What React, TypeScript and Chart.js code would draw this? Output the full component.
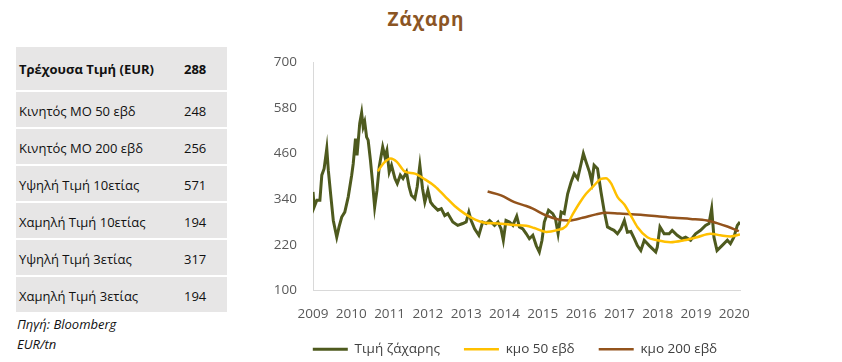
import React, { useEffect, useRef } from "react";
import { Chart, registerables } from "chart.js";

Chart.register(...registerables);

const TITLE = "Ζάχαρη";
const tableLabels = [
  "Τρέχουσα Τιμή (EUR)",
  "Κινητός ΜΟ 50 εβδ",
  "Κινητός ΜΟ 200 εβδ",
  "Υψηλή Τιμή 10ετίας",
  "Χαμηλή Τιμή 10ετίας",
  "Υψηλή Τιμή 3ετίας",
  "Χαμηλή Τιμή 3ετίας",
];
const tableValues = [288, 248, 256, 571, 194, 317, 194];
const sourceLines = ["Πηγή: Bloomberg", "EUR/tn"];
const seriesNames = ["Τιμή ζάχαρης", "κμο 50 εβδ", "κμο 200 εβδ"];

const yMin = 100;
const yMax = 700;
const yStep = 120;
const xStartYear = 2009;
const xEndYear = 2020.15;

const priceYears = [
  2009.0, 2009.03, 2009.1, 2009.18, 2009.23, 2009.29, 2009.36, 2009.4, 2009.46, 2009.53,
  2009.62, 2009.68, 2009.75, 2009.83, 2009.92, 2010.01, 2010.05, 2010.11, 2010.15, 2010.22,
  2010.27, 2010.31, 2010.35, 2010.4, 2010.44, 2010.5, 2010.55, 2010.61, 2010.67, 2010.73,
  2010.82, 2010.88, 2010.93, 2010.99, 2011.05, 2011.14, 2011.2, 2011.28, 2011.35, 2011.44,
  2011.51, 2011.57, 2011.66, 2011.72, 2011.79, 2011.86, 2011.92, 2012.0, 2012.07, 2012.13,
  2012.26, 2012.35, 2012.44, 2012.52, 2012.65, 2012.78, 2012.91, 2013.0, 2013.07, 2013.13,
  2013.22, 2013.33, 2013.43, 2013.52, 2013.61, 2013.74, 2013.83, 2013.91, 2013.97, 2014.04,
  2014.13, 2014.22, 2014.32, 2014.39, 2014.48, 2014.57, 2014.65, 2014.74, 2014.83, 2014.91,
  2014.98, 2015.04, 2015.15, 2015.26, 2015.33, 2015.4, 2015.48, 2015.56, 2015.65, 2015.74,
  2015.82, 2015.91, 2016.0, 2016.06, 2016.13, 2016.22, 2016.28, 2016.34, 2016.43, 2016.52,
  2016.6, 2016.69, 2016.78, 2016.86, 2016.95, 2017.04, 2017.13, 2017.21, 2017.3, 2017.39,
  2017.47, 2017.56, 2017.65, 2017.78, 2017.86, 2017.95, 2017.99, 2018.06, 2018.17, 2018.3,
  2018.38, 2018.51, 2018.64, 2018.73, 2018.86, 2018.99, 2019.12, 2019.25, 2019.34, 2019.41,
  2019.47, 2019.55, 2019.68, 2019.82, 2019.9, 2019.99, 2020.08, 2020.15,
];
const priceValues = [
  359, 319, 337, 337, 403, 420, 473, 416, 354, 284,
  240, 267, 293, 306, 346, 403, 433, 499, 455, 539,
  567, 530, 543, 503, 495, 442, 390, 319, 363, 425,
  477, 451, 468, 411, 429, 394, 381, 403, 394, 411,
  372, 350, 341, 372, 429, 368, 332, 363, 332, 324,
  311, 315, 297, 302, 280, 271, 276, 280, 306, 284,
  262, 245, 280, 276, 284, 271, 280, 262, 232, 284,
  280, 271, 295, 267, 262, 249, 236, 245, 218, 201,
  232, 280, 311, 302, 289, 249, 306, 302, 354, 385,
  407, 394, 433, 460, 438, 411, 385, 429, 420, 359,
  311, 267, 262, 258, 249, 262, 284, 253, 255, 236,
  218, 205, 232, 218, 210, 201, 214, 267, 249, 249,
  258, 245, 236, 240, 232, 249, 258, 271, 276, 315,
  240, 205, 218, 232, 223, 240, 271, 280,
];

const ma50Years = [
  2010.69, 2010.85, 2011.03, 2011.19, 2011.39, 2011.66, 2011.92, 2012.18, 2012.44, 2012.7,
  2012.96, 2013.22, 2013.48, 2013.82, 2014.26, 2014.57, 2014.78, 2015.09, 2015.35, 2015.61,
  2015.78, 2015.96, 2016.13, 2016.34, 2016.52, 2016.65, 2016.78, 2016.95, 2017.13, 2017.3,
  2017.47, 2017.73, 2017.99, 2018.34, 2018.69, 2019.03, 2019.38, 2019.64, 2019.9, 2020.15,
];
const ma50Values = [
  413, 435, 447, 438, 413, 407, 392, 374, 348, 322,
  302, 287, 278, 276, 272, 270, 264, 254, 258, 269,
  300, 330, 354, 376, 393, 395, 382, 346, 326, 297,
  267, 240, 232, 227, 232, 240, 249, 245, 242, 247,
];

const ma200Years = [
  2013.56, 2013.91, 2014.26, 2014.57, 2014.74, 2015.09, 2015.43, 2015.69, 2016.04, 2016.39,
  2016.65, 2017.0, 2017.56, 2017.99, 2018.43, 2018.86, 2019.29, 2019.55, 2019.82, 2020.12,
];
const ma200Values = [
  360, 350, 332, 322, 315, 297, 286, 284, 291, 300,
  304, 302, 299, 295, 291, 288, 284, 277, 268, 256,
];

const FONT = "'Open Sans', 'Noto Sans', sans-serif";

function toPoints(xs: number[], ys: number[]) {
  return xs.map((x, i) => ({ x, y: ys[i] }));
}

export default function App() {
  const canvasRef = useRef<HTMLCanvasElement>(null);

  useEffect(() => {
    const canvas = canvasRef.current;
    if (!canvas) return;
    Chart.defaults.font.family = FONT;
    const chart = new Chart(canvas, {
      type: "line",
      data: {
        datasets: [
          {
            label: seriesNames[0],
            data: toPoints(priceYears, priceValues),
            borderColor: "#4E5A1E",
            backgroundColor: "#4E5A1E",
            borderWidth: 3,
            pointRadius: 0,
            tension: 0,
            order: 3,
          },
          {
            label: seriesNames[1],
            data: toPoints(ma50Years, ma50Values),
            borderColor: "#FFC000",
            backgroundColor: "#FFC000",
            borderWidth: 2.5,
            pointRadius: 0,
            cubicInterpolationMode: "monotone",
            order: 1,
          },
          {
            label: seriesNames[2],
            data: toPoints(ma200Years, ma200Values),
            borderColor: "#93531C",
            backgroundColor: "#93531C",
            borderWidth: 2.5,
            pointRadius: 0,
            cubicInterpolationMode: "monotone",
            order: 2,
          },
        ],
      },
      options: {
        responsive: false,
        animation: false,
        layout: { padding: { top: 17, right: 0, left: 0, bottom: 0 } },
        scales: {
          x: {
            type: "linear",
            min: xStartYear,
            max: xEndYear,
            grid: { display: false, drawTicks: false },
            border: { display: true, color: "#D9D9D9", width: 1 },
            ticks: {
              stepSize: 1,
              includeBounds: false,
              autoSkip: false,
              maxRotation: 0,
              padding: 16,
              color: "#595959",
              font: { size: 13.5 },
              callback: (v: any) => String(v),
            },
            afterFit: (s: any) => {
              s.height = 28;
            },
          },
          y: {
            min: yMin,
            max: yMax,
            grid: { display: false, drawTicks: false },
            border: { display: true, color: "#D9D9D9", width: 1 },
            ticks: {
              stepSize: yStep,
              padding: 16,
              color: "#595959",
              font: { size: 13.5 },
            },
            afterFit: (s: any) => {
              s.width = 63;
            },
          },
          yRightSpace: {
            position: "right",
            display: true,
            min: yMin,
            max: yMax,
            grid: { display: false, drawTicks: false },
            border: { display: false },
            ticks: { display: false },
            afterFit: (s: any) => {
              s.width = 40;
            },
          },
        },
        plugins: {
          legend: {
            position: "bottom",
            labels: {
              usePointStyle: true,
              pointStyle: "line",
              pointStyleWidth: 35,
              padding: 24,
              color: "#404040",
              font: { size: 13.5 },
              sort: (a: any, b: any) => a.datasetIndex - b.datasetIndex,
            },
          },
          tooltip: { enabled: false },
        },
      },
    });
    return () => chart.destroy();
  }, []);

  const rowTops: number[] = [];
  const rowHeights: number[] = [];
  let top = 47;
  tableLabels.forEach((_, i) => {
    const h = i === 0 ? 43 : 35;
    rowTops.push(top);
    rowHeights.push(h);
    top += h + 2;
  });

  return (
    <div
      style={{
        position: "absolute",
        left: 0,
        top: 0,
        width: 842,
        height: 362,
        overflow: "hidden",
        background: "#ffffff",
        fontFamily: FONT,
      }}
    >
      <div
        style={{
          position: "absolute",
          left: 326,
          top: 4,
          width: 200,
          textAlign: "center",
          fontSize: 19,
          fontWeight: 700,
          letterSpacing: 1,
          color: "#8B5524",
          lineHeight: "30px",
        }}
      >
        {TITLE}
      </div>
      {tableLabels.map((label, i) => (
        <div
          key={label}
          style={{
            position: "absolute",
            left: 16,
            top: rowTops[i],
            width: 211,
            height: rowHeights[i],
            background: "#E7E6E6",
            fontSize: 13,
            fontWeight: i === 0 ? 700 : 400,
            color: "#111111",
          }}
        >
          <span style={{ position: "absolute", left: 3, top: i === 0 ? 13 : 10 }}>{label}</span>
          <span style={{ position: "absolute", left: 168, top: i === 0 ? 13 : 10 }}>{tableValues[i]}</span>
        </div>
      ))}
      {sourceLines.map((s, i) => (
        <div
          key={s}
          style={{
            position: "absolute",
            left: 17,
            top: 315 + i * 20,
            fontSize: 13,
            fontStyle: "italic",
            color: "#111111",
          }}
        >
          {s}
        </div>
      ))}
      <canvas
        ref={canvasRef}
        width={530}
        height={328}
        style={{ position: "absolute", left: 250, top: 38, width: 530, height: 328 }}
      />
    </div>
  );
}
